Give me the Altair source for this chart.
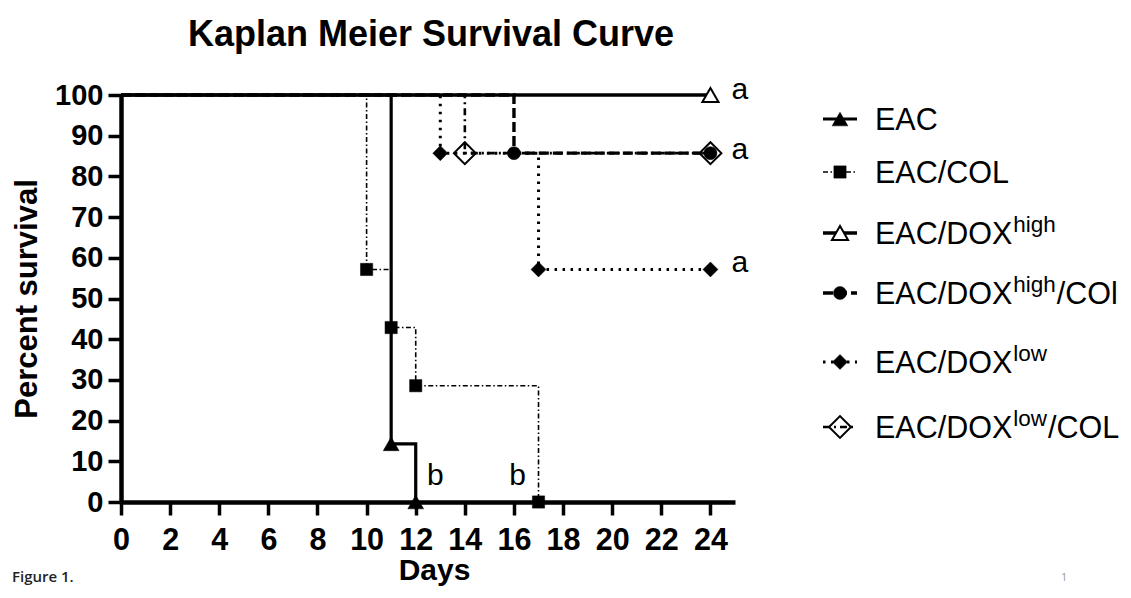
import altair as alt
import pandas as pd

# ---------------- data ----------------
groups = ["EAC", "EAC/COL", "EAC/DOXhigh", "EAC/DOXhigh/COl", "EAC/DOXlow", "EAC/DOXlow/COL"]

eac_days = [0, 11, 12]
eac_surv = [100, 14.29, 0]
col_days = [0, 10, 11, 12, 17]
col_surv = [100, 57.14, 42.86, 28.57, 0]
doxh_days = [0, 24]
doxh_surv = [100, 100]
doxhcol_days = [0, 16, 24]
doxhcol_surv = [100, 85.71, 85.71]
doxl_days = [0, 13, 17, 24]
doxl_surv = [100, 85.71, 57.14, 57.14]
doxlcol_days = [0, 14, 24]
doxlcol_surv = [100, 85.71, 85.71]

legend_main = ["EAC", "EAC/COL", "EAC/DOX", "EAC/DOX", "EAC/DOX", "EAC/DOX"]
legend_sup = ["", "", "high", "high", "low", "low"]
legend_suffix = ["", "", "", "/COl", "", "/COL"]

letter_text = ["a", "a", "a", "b", "b"]
letter_day = [25.2, 25.2, 25.2, 12.8, 16.15]
letter_pct = [101.2, 86.5, 58.7, 6.4, 6.4]

x_ticks = list(range(0, 25, 2))
y_ticks = list(range(0, 101, 10))

title_text = "Kaplan Meier Survival Curve"
x_title = "Days"
y_title = "Percent survival"
fig_label = "Figure 1."
page_no = "1"

# ---------------- styling ----------------
FONT = "Liberation Sans"
W, H = 614, 407

series_days = [eac_days, col_days, doxh_days, doxhcol_days, doxl_days, doxlcol_days]
series_surv = [eac_surv, col_surv, doxh_surv, doxhcol_surv, doxl_surv, doxlcol_surv]

styles = [
    dict(dash=None, width=3.2, shape="triangle-up", size=250, fill="black", stroke="black", sw=0.5),
    dict(dash=[5, 2.5, 1.5, 2.5], width=1.6, shape="square", size=150, fill="black", stroke="black", sw=0.5),
    dict(dash=None, width=3.6, shape="triangle-up", size=260, fill="white", stroke="black", sw=2),
    dict(dash=[10, 4], width=3.4, shape="circle", size=170, fill="black", stroke="black", sw=0.5),
    dict(dash=[2.5, 5.5], width=3.0, shape="diamond", size=225, fill="black", stroke="black", sw=0.5),
    dict(dash=[7, 4, 2, 4], width=2.6, shape="diamond", size=480, fill="transparent", stroke="black", sw=2),
]

xscale = alt.Scale(domain=[0, 25], nice=False, zero=False)
yscale = alt.Scale(domain=[0, 100], nice=False)

xaxis = alt.Axis(
    values=x_ticks, title=x_title, grid=False,
    labelFont=FONT, labelFontSize=30.5, labelFontWeight="bold", labelColor="black",
    labelBaseline="alphabetic", labelPadding=34, labelFlush=False, labelOverlap=False,
    tickSize=13, tickWidth=3.5, tickColor="black",
    domainWidth=4.5, domainColor="black",
    titleFont=FONT, titleFontSize=30, titleFontWeight="bold", titleColor="black",
    titleX=313, titleY=77, titleBaseline="alphabetic", titleAlign="center",
)
yaxis = alt.Axis(
    values=y_ticks, title=y_title, grid=False,
    labelFont=FONT, labelFontSize=29, labelFontWeight="bold", labelColor="black",
    labelPadding=5, labelFlush=False, labelOverlap=False,
    tickSize=13, tickWidth=3.5, tickColor="black",
    domainWidth=4.5, domainColor="black",
    titleFont=FONT, titleFontSize=31, titleFontWeight="bold", titleColor="black",
    titleX=-85, titleY=203.5, titleAngle=270, titleBaseline="alphabetic", titleAlign="center",
)

def X(field):
    return alt.X(field, type="quantitative", scale=xscale, axis=xaxis)

def Y(field):
    return alt.Y(field, type="quantitative", scale=yscale, axis=yaxis)

layers = []

# survival step lines
for g, d, s, st in zip(groups, series_days, series_surv, styles):
    df = pd.DataFrame({"group": g, "day": d, "pct": s})
    kw = dict(interpolate="step-after", color="black", strokeWidth=st["width"])
    if st["dash"]:
        kw["strokeDash"] = st["dash"]
    layers.append(alt.Chart(df).mark_line(**kw).encode(x=X("day"), y=Y("pct")))

# event / censor symbols
for g, d, s, st in zip(groups, series_days, series_surv, styles):
    df = pd.DataFrame({"group": g, "day": d, "pct": s})
    df = df[df["day"] > 0]
    layers.append(
        alt.Chart(df).mark_point(
            shape=st["shape"], size=st["size"], filled=True, fill=st["fill"],
            stroke=st["stroke"], strokeWidth=st["sw"], opacity=1,
        ).encode(x=X("day"), y=Y("pct"))
    )

# significance letters
letters = pd.DataFrame({"t": letter_text, "day": letter_day, "pct": letter_pct})
layers.append(
    alt.Chart(letters).mark_text(font=FONT, fontSize=30, color="black", align="center", baseline="middle")
    .encode(x=X("day"), y=Y("pct"), text="t:N")
)

# ---------------- manual legend (superscripts) ----------------
ADV = {"E": .667, "A": .667, "C": .722, "/": .278, "D": .722, "O": .778, "X": .667,
       "L": .556, "h": .556, "i": .222, "g": .556, "l": .222, "o": .556, "w": .722}

def tw(s, size):
    return sum(ADV.get(c, .556) for c in s) * size

row_y = [24, 77, 138, 198, 267, 332]
MAIN, SUP = 30.5, 22.5
x_text = 754
one = pd.DataFrame({"k": [0]})
for i, st in enumerate(styles):
    ry = row_y[i]
    kw = dict(color="black", strokeWidth=st["width"])
    if st["dash"]:
        kw["strokeDash"] = st["dash"]
    layers.append(alt.Chart(one).mark_rule(**kw).encode(
        x=alt.value(702), x2=alt.value(736), y=alt.value(ry)))
    layers.append(alt.Chart(one).mark_point(
        shape=st["shape"], size=st["size"], filled=True, fill=st["fill"],
        stroke=st["stroke"], strokeWidth=st["sw"], opacity=1,
    ).encode(x=alt.value(719), y=alt.value(ry)))
    layers.append(alt.Chart(one).mark_text(
        font=FONT, fontSize=MAIN, color="black", align="left", baseline="alphabetic",
    ).encode(x=alt.value(x_text), y=alt.value(ry + 11), text=alt.value(legend_main[i])))
    if legend_sup[i]:
        sx = x_text + tw(legend_main[i], MAIN) + 1
        layers.append(alt.Chart(one).mark_text(
            font=FONT, fontSize=SUP, color="black", align="left", baseline="alphabetic",
        ).encode(x=alt.value(sx), y=alt.value(ry - 1), text=alt.value(legend_sup[i])))
        if legend_suffix[i]:
            fx = sx + tw(legend_sup[i], SUP) + 1
            layers.append(alt.Chart(one).mark_text(
                font=FONT, fontSize=MAIN, color="black", align="left", baseline="alphabetic",
            ).encode(x=alt.value(fx), y=alt.value(ry + 11), text=alt.value(legend_suffix[i])))

# title and captions
layers.append(alt.Chart(one).mark_text(
    font=FONT, fontSize=36, fontWeight="bold", color="black", align="center", baseline="alphabetic",
).encode(x=alt.value(310), y=alt.value(-49), text=alt.value(title_text)))
layers.append(alt.Chart(one).mark_text(
    font="Open Sans", fontSize=15, fontWeight=600, color="#222222", align="left", baseline="alphabetic",
).encode(x=alt.value(-109), y=alt.value(487), text=alt.value(fig_label)))
layers.append(alt.Chart(one).mark_text(
    font="Open Sans", fontSize=11, color="#999999", align="left", baseline="alphabetic",
).encode(x=alt.value(940), y=alt.value(486), text=alt.value(page_no)))

chart = alt.layer(*layers).properties(
    width=W, height=H,
    autosize=alt.AutoSizeParams(type="none"),
    padding={"left": 113, "top": 87, "right": 388, "bottom": 84},
    background="white",
).configure_view(stroke=None)

chart.save("out.html", embed_options={"renderer": "svg", "actions": False})
